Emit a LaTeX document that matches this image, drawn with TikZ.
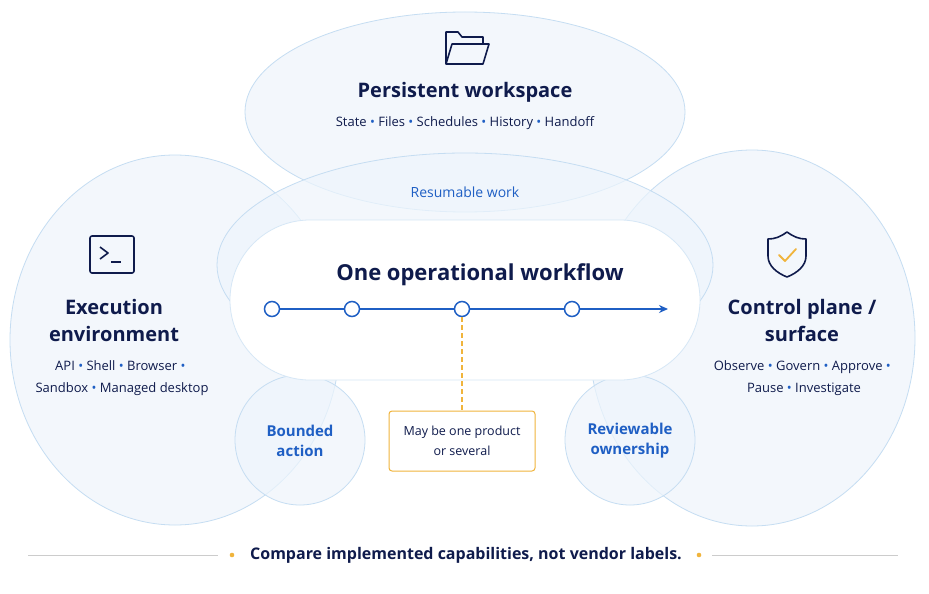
\documentclass[tikz,border=0pt]{standalone}
\usepackage{fontspec}
\setmainfont{Open Sans}
\usetikzlibrary{arrows.meta}
\definecolor{navy}{HTML}{0F1B4C}
\definecolor{blu}{HTML}{1F5FC4}
\definecolor{lfill}{HTML}{EEF5FC}
\definecolor{lbord}{HTML}{C5DDF2}
\definecolor{org}{HTML}{F0B43C}
\tikzset{
 zone/.style={fill=lfill,fill opacity=0.7,draw=lbord,line width=0.8pt},
 ttl/.style={text=navy,font=\fontsize{20}{24}\selectfont\bfseries,align=center},
 sub/.style={text=navy,font=\fontsize{13}{22}\selectfont,align=center},
 lab/.style={text=blu,font=\fontsize{15}{20}\selectfont\bfseries,align=center},
 stop/.style={circle,draw=blu,line width=1.5pt,fill=white,minimum size=15pt,inner sep=0pt},
}
\newcommand{\bd}{\textcolor{blu}{~\textbullet~}}
\begin{document}
\begin{tikzpicture}[x=1pt,y=-1pt]
\useasboundingbox (0,0) rectangle (929,594);
\fill[white] (0,0) rectangle (929,594);
\draw[zone] (465,112) ellipse (220 and 100);
\draw[zone] (175,340) ellipse (165 and 185);
\draw[zone] (752,338) ellipse (163 and 188);
\draw[zone] (465,265) ellipse (248 and 112);
\draw[zone] (300,440) circle (65);
\draw[zone] (630,440) circle (65);
\node[draw=lbord!70,fill=white,rounded corners=80pt,minimum width=470pt,minimum height=160pt,line width=0.8pt] (pill) at (465,300) {};
% icons
\begin{scope}[navy,line width=1.6pt,line join=round]
\draw (446,64) -- (446,32) -- (458,32) -- (462,37) -- (483,37) -- (483,44);
\draw (446,64) -- (452,44) -- (489,44) -- (483,64) -- cycle;
\draw[rounded corners=2pt] (90,236) rectangle (134,273);
\draw (100,247) -- (108,253) -- (100,259); \draw (111,262) -- (121,262);
\draw (787,232) .. controls (780,237) and (775,239) .. (768,239) -- (768,256) .. controls (768,266) and (777,273) .. (787,277) .. controls (797,273) and (806,266) .. (806,256) -- (806,239) .. controls (799,239) and (794,237) .. (787,232) -- cycle;
\end{scope}
\draw[org,line width=1.8pt,line cap=round,line join=round] (779,255) -- (785,261) -- (796,249);
% texts
\node[ttl] (pw) at (465,92) {Persistent workspace};
\node[sub] (pws) at (465,123) {State\bd Files\bd Schedules\bd History\bd Handoff};
\node[text=blu,font=\fontsize{14}{18}\selectfont] (rw) at (465,192) {Resumable work};
\node[ttl,font=\fontsize{20}{27}\selectfont\bfseries] (ee) at (114,320) {Execution\\environment};
\node[sub] (ees) at (122,378) {API\bd Shell\bd Browser\bd\\Sandbox\bd Managed desktop};
\node[ttl,font=\fontsize{20}{27}\selectfont\bfseries] (cp) at (802,320) {Control plane /\\surface};
\node[sub] (cps) at (804,378) {Observe\bd Govern\bd Approve\bd\\Pause\bd Investigate};
\node[text=navy,font=\fontsize{22}{26}\selectfont\bfseries] (ow) at (480,275) {One operational workflow};
\node[lab] (ba) at (300,441) {Bounded\\action};
\node[lab] (ro) at (630,441) {Reviewable\\ownership};
% workflow line
\coordinate (ls) at (264,309); \coordinate (le) at (668,309);
\draw[blu,line width=1.5pt,-{Stealth[length=9pt,width=8pt]}] (ls) -- (le);
\node[stop] (s1) at (272,309) {};
\node[stop] (s2) at (352,309) {};
\node[stop] (s3) at (462,309) {};
\node[stop] (s4) at (572,309) {};
\node[draw=org,fill=white,rounded corners=3pt,line width=1pt,minimum width=146pt,minimum height=60pt,text=navy,font=\fontsize{12.5}{20}\selectfont,align=center] (box) at (462,441) {May be one product\\or several};
\draw[org,line width=1.2pt,dash pattern=on 5pt off 3pt] (s3) -- (box);
% footer
\coordinate (a1) at (28,555); \coordinate (a2) at (218,555);
\coordinate (b1) at (712,555); \coordinate (b2) at (898,555);
\draw[gray!40,line width=0.8pt] (a1) -- (a2);
\draw[gray!40,line width=0.8pt] (b1) -- (b2);
\fill[org] (232,555) circle (2.3pt);
\fill[org] (699,555) circle (2.3pt);
\node[text=navy,font=\fontsize{16}{20}\selectfont\bfseries] (ft) at (466,555) {Compare implemented capabilities, not vendor labels.};
\end{tikzpicture}
\end{document}
